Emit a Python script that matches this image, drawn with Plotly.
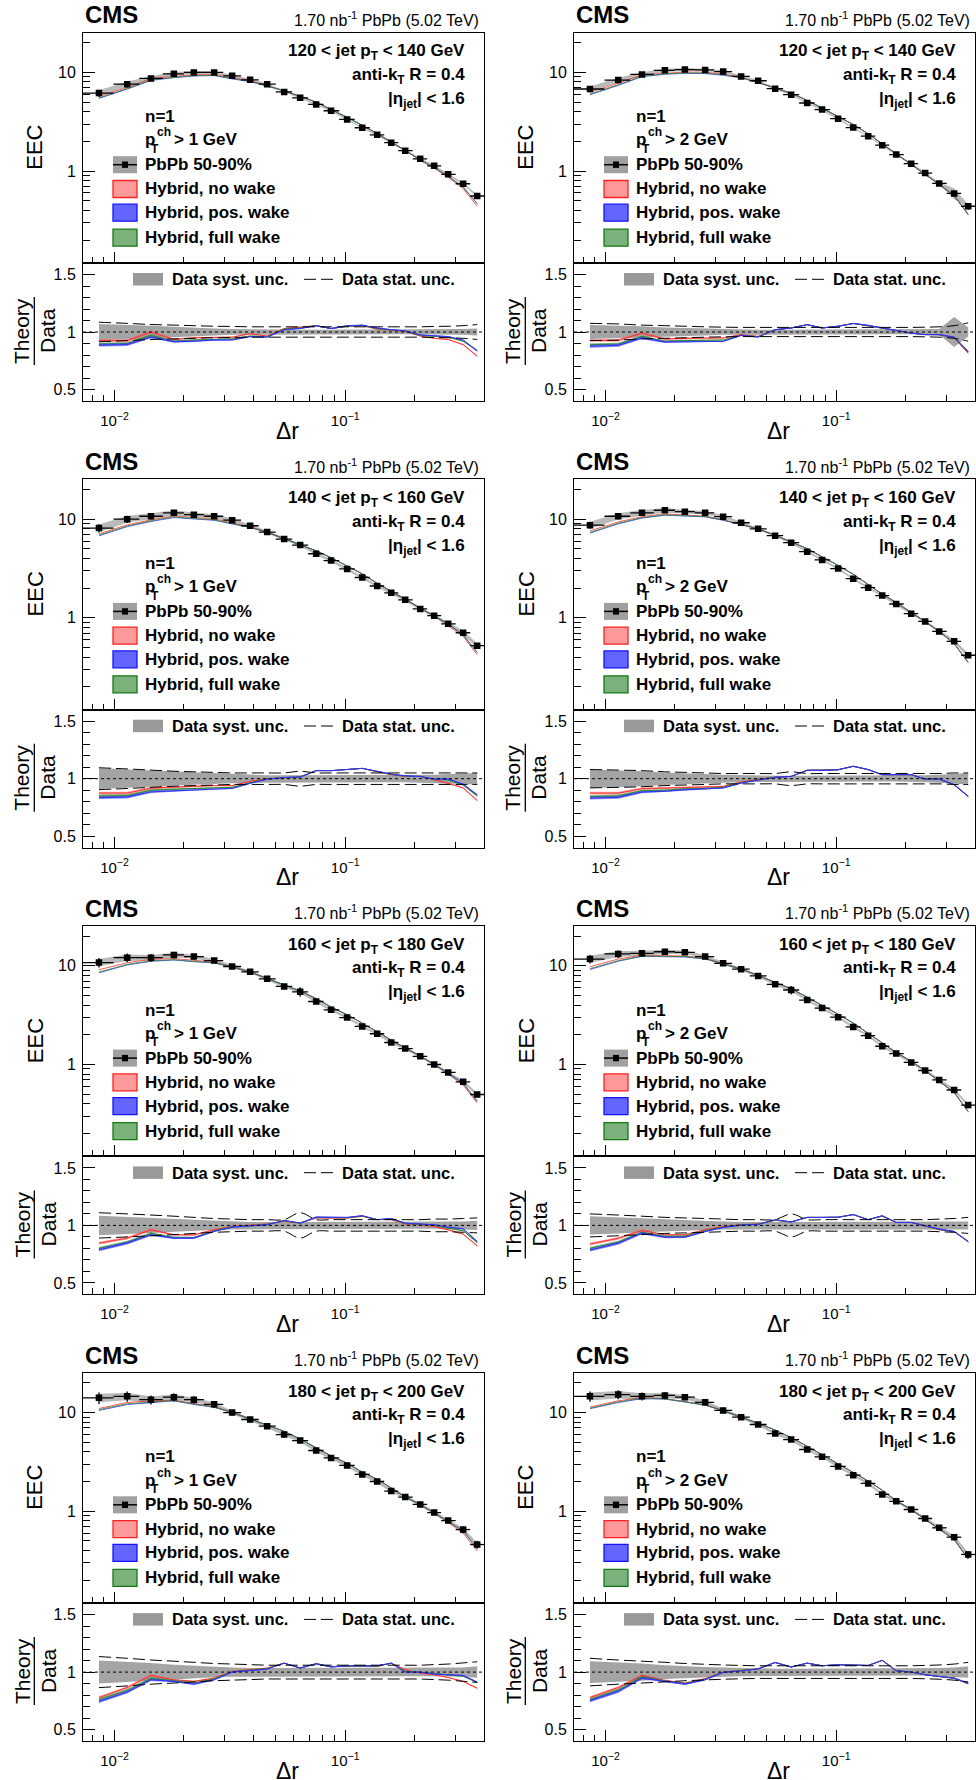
import math
import plotly.graph_objects as go

W, H = 976, 1780
FONT = "Liberation Sans"

# ------------------------------------------------------------------ data
dr_centers = [0.00856, 0.01135, 0.01439, 0.01809, 0.02208, 0.02704, 0.03236, 0.03873,
              0.04590, 0.05440, 0.06383, 0.07488, 0.08690, 0.1020, 0.1186, 0.1377,
              0.1584, 0.1822, 0.2116, 0.2432, 0.2797, 0.3249, 0.3737]
dr_edges = [0.0073, 0.0099, 0.0128, 0.0162, 0.0200, 0.0244, 0.0296, 0.0354, 0.0422,
            0.0500, 0.0589, 0.0691, 0.0806, 0.0942, 0.1100, 0.1278, 0.1477, 0.1699,
            0.1963, 0.2268, 0.2608, 0.3014, 0.3484, 0.40]

x_major_ticks = [0.01, 0.1]
x_major_labels = ["10<sup>\u22122</sup>", "10<sup>\u22121</sup>"]
x_minor_ticks = [0.008, 0.009, 0.02, 0.03, 0.04, 0.05, 0.06, 0.07, 0.08, 0.09, 0.2, 0.3]
eec_major_ticks = [1, 10]
eec_major_labels = ["1", "10"]
eec_minor_ticks = [0.2, 0.3, 0.4, 0.5, 0.6, 0.7, 0.8, 0.9, 2, 3, 4, 5, 6, 7, 8, 9, 20]
eec_range = [0.117, 25.4]
ratio_major_ticks = [0.5, 1.0, 1.5]
ratio_major_labels = ["0.5", "1", "1.5"]
ratio_range = [0.4, 1.6]

jet_pt_labels = ["120 < jet p<sub>T</sub> < 140 GeV", "140 < jet p<sub>T</sub> < 160 GeV",
                 "160 < jet p<sub>T</sub> < 180 GeV", "180 < jet p<sub>T</sub> < 200 GeV"]
track_pt_cuts = ["1", "2"]
data_label = "PbPb 50-90%"
model_labels = ["Hybrid, no wake", "Hybrid, pos. wake", "Hybrid, full wake"]

# 120-140 GeV, track pT > 1 GeV
eec_120_trk1 = [6.17, 7.61, 8.69, 9.68, 10.0, 10.0, 9.25, 8.41, 7.61, 6.35, 5.53, 4.74, 4.09,
                3.34, 2.75, 2.33, 1.94, 1.61, 1.33, 1.13, 0.926, 0.744, 0.559]
syst_120_trk1 = [0.07, 0.065, 0.055, 0.045, 0.035, 0.03, 0.025, 0.022, 0.02, 0.02, 0.02, 0.02,
                 0.02, 0.02, 0.02, 0.02, 0.02, 0.02, 0.02, 0.02, 0.022, 0.025, 0.03]
stat_120_trk1 = [0.085, 0.075, 0.065, 0.06, 0.055, 0.05, 0.048, 0.045, 0.045, 0.045, 0.045, 0.045,
                 0.045, 0.045, 0.045, 0.045, 0.045, 0.045, 0.045, 0.048, 0.05, 0.055, 0.065]
nowake_120_trk1 = [0.925, 0.925, 1.00, 0.935, 0.95, 0.955, 0.955, 0.985, 0.965, 1.03, 1.04, 1.055,
                   1.03, 1.05, 1.055, 1.025, 1.015, 1.005, 0.965, 0.945, 0.935, 0.89, 0.79]
poswake_120_trk1 = [0.885, 0.89, 0.955, 0.915, 0.92, 0.93, 0.93, 0.96, 0.955, 1.02, 1.03, 1.055,
                    1.03, 1.055, 1.06, 1.035, 1.02, 1.01, 0.975, 0.965, 0.96, 0.93, 0.835]
fullwake_120_trk1 = [0.895, 0.9, 0.97, 0.92, 0.93, 0.935, 0.94, 0.965, 0.96, 1.025, 1.035, 1.055,
                     1.03, 1.05, 1.058, 1.03, 1.018, 1.008, 0.97, 0.96, 0.955, 0.92, 0.84]

# 120-140 GeV, track pT > 2 GeV
eec_120_trk2 = [6.79, 8.37, 9.55, 10.5, 10.7, 10.6, 10.2, 9.11, 8.24, 6.84, 5.95, 4.90, 4.20,
                3.40, 2.76, 2.26, 1.83, 1.47, 1.19, 0.955, 0.750, 0.594, 0.440]
syst_120_trk2 = [0.06, 0.055, 0.05, 0.04, 0.035, 0.03, 0.025, 0.02, 0.02, 0.02, 0.02, 0.02,
                 0.02, 0.02, 0.02, 0.02, 0.02, 0.02, 0.02, 0.02, 0.025, 0.13, 0.04]
stat_120_trk2 = [0.075, 0.07, 0.06, 0.055, 0.05, 0.045, 0.042, 0.04, 0.04, 0.04, 0.04, 0.04,
                 0.04, 0.04, 0.04, 0.04, 0.04, 0.04, 0.04, 0.042, 0.045, 0.055, 0.08]
nowake_120_trk2 = [0.927, 0.927, 0.99, 0.939, 0.945, 0.948, 0.948, 0.977, 0.962, 1.02, 1.035, 1.064,
                   1.035, 1.05, 1.073, 1.055, 1.035, 1.012, 0.99, 0.977, 0.977, 0.948, 0.816]
poswake_120_trk2 = [0.875, 0.883, 0.948, 0.913, 0.915, 0.918, 0.918, 0.97, 0.956, 1.02, 1.035, 1.064,
                    1.035, 1.05, 1.075, 1.058, 1.035, 1.012, 0.99, 0.977, 0.977, 0.955, 0.83]
fullwake_120_trk2 = [0.89, 0.895, 0.96, 0.92, 0.925, 0.928, 0.93, 0.972, 0.958, 1.02, 1.035, 1.064,
                     1.035, 1.05, 1.074, 1.056, 1.035, 1.012, 0.99, 0.977, 0.977, 0.952, 0.825]

# 140-160 GeV, track pT > 1 GeV
eec_140_trk1 = [8.11, 10.0, 10.7, 11.6, 11.1, 10.7, 9.77, 8.57, 7.39, 6.28, 5.46, 4.46, 3.80,
                3.13, 2.56, 2.10, 1.79, 1.52, 1.23, 1.05, 0.869, 0.705, 0.521]
syst_140_trk1 = [0.09, 0.08, 0.07, 0.06, 0.05, 0.045, 0.04, 0.035, 0.03, 0.03, 0.03, 0.03,
                 0.03, 0.03, 0.03, 0.03, 0.03, 0.03, 0.03, 0.035, 0.04, 0.045, 0.05]
stat_140_trk1 = [0.095, 0.085, 0.075, 0.065, 0.06, 0.055, 0.05, 0.05, 0.05, 0.05, 0.065, 0.05,
                 0.05, 0.05, 0.05, 0.05, 0.05, 0.05, 0.05, 0.05, 0.05, 0.05, 0.05]
nowake_140_trk1 = [0.875, 0.875, 0.919, 0.928, 0.935, 0.94, 0.94, 0.977, 1.0, 1.01, 1.015, 1.07,
                   1.07, 1.08, 1.09, 1.06, 1.035, 1.02, 1.02, 0.99, 0.96, 0.92, 0.81]
poswake_140_trk1 = [0.835, 0.84, 0.885, 0.895, 0.905, 0.91, 0.915, 0.96, 0.995, 1.01, 1.015, 1.07,
                    1.07, 1.08, 1.09, 1.065, 1.04, 1.025, 1.02, 0.997, 0.997, 0.953, 0.86]
fullwake_140_trk1 = [0.85, 0.852, 0.9, 0.91, 0.915, 0.92, 0.925, 0.965, 0.997, 1.01, 1.015, 1.07,
                     1.07, 1.08, 1.09, 1.062, 1.038, 1.022, 1.02, 0.995, 0.99, 0.945, 0.85]

# 140-160 GeV, track pT > 2 GeV
eec_140_trk2 = [8.69, 10.7, 11.6, 12.3, 11.9, 11.6, 10.6, 9.19, 7.98, 6.79, 5.77, 4.68, 3.86,
                3.15, 2.49, 2.02, 1.68, 1.38, 1.10, 0.918, 0.728, 0.577, 0.417]
syst_140_trk2 = [0.08, 0.075, 0.065, 0.055, 0.045, 0.04, 0.035, 0.03, 0.025, 0.025, 0.025, 0.025,
                 0.025, 0.025, 0.025, 0.025, 0.025, 0.025, 0.025, 0.03, 0.035, 0.04, 0.05]
stat_140_trk2 = [0.08, 0.075, 0.07, 0.06, 0.055, 0.05, 0.045, 0.045, 0.045, 0.045, 0.06, 0.045,
                 0.045, 0.045, 0.045, 0.045, 0.045, 0.045, 0.045, 0.045, 0.045, 0.05, 0.05]
nowake_140_trk2 = [0.875, 0.875, 0.913, 0.919, 0.924, 0.924, 0.933, 0.971, 0.997, 1.012, 1.02, 1.073,
                   1.073, 1.078, 1.108, 1.078, 1.035, 1.035, 1.035, 0.997, 0.997, 0.948, 0.846]
poswake_140_trk2 = [0.831, 0.837, 0.884, 0.89, 0.904, 0.91, 0.919, 0.962, 0.99, 1.012, 1.02, 1.073,
                    1.073, 1.078, 1.108, 1.08, 1.035, 1.035, 1.035, 0.997, 0.997, 0.948, 0.846]
fullwake_140_trk2 = [0.845, 0.85, 0.895, 0.9, 0.912, 0.915, 0.925, 0.965, 0.993, 1.012, 1.02, 1.073,
                     1.073, 1.078, 1.108, 1.079, 1.035, 1.035, 1.035, 0.997, 0.997, 0.948, 0.846]

# 160-180 GeV, track pT > 1 GeV
eec_160_trk1 = [10.8, 12.1, 12.1, 12.9, 12.4, 11.3, 9.85, 8.69, 7.38, 6.18, 5.45, 4.35, 3.58,
                2.99, 2.43, 2.05, 1.67, 1.45, 1.21, 1.0, 0.830, 0.667, 0.496]
syst_160_trk1 = [0.085, 0.075, 0.065, 0.055, 0.045, 0.04, 0.035, 0.03, 0.03, 0.03, 0.03, 0.03,
                 0.03, 0.03, 0.03, 0.03, 0.03, 0.03, 0.03, 0.03, 0.03, 0.035, 0.04]
stat_160_trk1 = [0.11, 0.1, 0.09, 0.08, 0.07, 0.06, 0.055, 0.05, 0.05, 0.05, 0.11, 0.05,
                 0.05, 0.05, 0.05, 0.05, 0.05, 0.05, 0.05, 0.055, 0.055, 0.06, 0.065]
nowake_160_trk1 = [0.845, 0.889, 0.962, 0.918, 0.918, 0.962, 0.991, 1.0, 1.012, 1.035, 1.02, 1.064,
                   1.064, 1.064, 1.079, 1.05, 1.05, 1.012, 1.006, 0.991, 0.962, 0.924, 0.822]
poswake_160_trk1 = [0.787, 0.845, 0.918, 0.889, 0.889, 0.948, 0.985, 0.997, 1.006, 1.044, 1.02, 1.073,
                    1.07, 1.07, 1.085, 1.05, 1.061, 1.02, 1.012, 1.006, 0.985, 0.971, 0.86]
fullwake_160_trk1 = [0.80, 0.855, 0.93, 0.895, 0.895, 0.952, 0.987, 0.998, 1.008, 1.04, 1.02, 1.07,
                     1.067, 1.067, 1.082, 1.05, 1.056, 1.016, 1.01, 1.0, 0.975, 0.955, 0.85]

# 160-180 GeV, track pT > 2 GeV
eec_160_trk2 = [11.7, 13.2, 13.4, 13.9, 13.7, 12.4, 10.6, 9.25, 7.91, 6.50, 5.69, 4.50, 3.73,
                3.02, 2.40, 1.96, 1.53, 1.29, 1.05, 0.869, 0.698, 0.551, 0.388]
syst_160_trk2 = [0.08, 0.07, 0.06, 0.05, 0.045, 0.04, 0.035, 0.03, 0.03, 0.03, 0.03, 0.03,
                 0.03, 0.03, 0.03, 0.03, 0.03, 0.03, 0.03, 0.03, 0.03, 0.035, 0.035]
stat_160_trk2 = [0.1, 0.09, 0.08, 0.07, 0.065, 0.06, 0.055, 0.05, 0.05, 0.05, 0.1, 0.05,
                 0.05, 0.05, 0.05, 0.05, 0.05, 0.05, 0.05, 0.05, 0.055, 0.06, 0.07]
nowake_160_trk2 = [0.838, 0.888, 0.956, 0.918, 0.918, 0.962, 0.991, 1.006, 1.012, 1.044, 1.03, 1.07,
                   1.07, 1.07, 1.094, 1.05, 1.08, 1.026, 1.026, 0.997, 0.962, 0.947, 0.859]
poswake_160_trk2 = [0.785, 0.844, 0.932, 0.897, 0.897, 0.947, 0.982, 1.003, 1.009, 1.05, 1.03, 1.07,
                    1.07, 1.072, 1.094, 1.05, 1.085, 1.026, 1.026, 0.997, 0.968, 0.947, 0.859]
fullwake_160_trk2 = [0.80, 0.855, 0.94, 0.905, 0.905, 0.952, 0.985, 1.004, 1.01, 1.047, 1.03, 1.07,
                     1.07, 1.071, 1.094, 1.05, 1.082, 1.026, 1.026, 0.997, 0.965, 0.947, 0.859]

# 180-200 GeV, track pT > 1 GeV
eec_180_trk1 = [14.1, 14.6, 13.5, 14.3, 13.5, 12.1, 10.0, 8.50, 7.27, 5.98, 5.20, 4.12, 3.47,
                2.91, 2.36, 2.00, 1.60, 1.39, 1.17, 0.969, 0.804, 0.651, 0.459]
syst_180_trk1 = [0.1, 0.09, 0.08, 0.065, 0.055, 0.045, 0.04, 0.035, 0.035, 0.035, 0.035, 0.035,
                 0.035, 0.035, 0.035, 0.035, 0.035, 0.035, 0.035, 0.035, 0.035, 0.04, 0.05]
stat_180_trk1 = [0.135, 0.12, 0.105, 0.095, 0.085, 0.075, 0.07, 0.065, 0.06, 0.06, 0.06, 0.06,
                 0.06, 0.06, 0.06, 0.06, 0.06, 0.06, 0.06, 0.065, 0.07, 0.08, 0.09]
nowake_180_trk1 = [0.779, 0.866, 0.971, 0.933, 0.919, 0.948, 1.006, 1.02, 1.035, 1.078, 1.035, 1.073,
                   1.049, 1.049, 1.055, 1.049, 1.078, 1.02, 0.991, 0.977, 0.953, 0.919, 0.86]
poswake_180_trk1 = [0.744, 0.826, 0.933, 0.919, 0.895, 0.933, 1.0, 1.012, 1.026, 1.078, 1.035, 1.073,
                    1.044, 1.055, 1.055, 1.055, 1.078, 1.0, 1.0, 0.983, 0.977, 0.971, 0.913]
fullwake_180_trk1 = [0.76, 0.84, 0.945, 0.925, 0.905, 0.94, 1.003, 1.016, 1.03, 1.078, 1.035, 1.073,
                     1.047, 1.052, 1.055, 1.052, 1.078, 1.005, 1.0, 0.985, 0.975, 0.965, 0.91]

# 180-200 GeV, track pT > 2 GeV
eec_180_trk2 = [14.6, 15.2, 14.6, 14.9, 14.3, 12.7, 10.5, 8.97, 7.56, 6.12, 5.32, 4.22, 3.56,
                2.84, 2.32, 1.91, 1.48, 1.26, 1.04, 0.843, 0.678, 0.545, 0.364]
syst_180_trk2 = [0.095, 0.085, 0.075, 0.06, 0.05, 0.045, 0.04, 0.035, 0.03, 0.03, 0.03, 0.03,
                 0.03, 0.03, 0.03, 0.03, 0.03, 0.03, 0.03, 0.03, 0.035, 0.04, 0.05]
stat_180_trk2 = [0.12, 0.105, 0.095, 0.085, 0.075, 0.068, 0.062, 0.058, 0.055, 0.055, 0.055, 0.055,
                 0.055, 0.055, 0.055, 0.055, 0.055, 0.055, 0.055, 0.058, 0.062, 0.07, 0.085]
nowake_180_trk2 = [0.779, 0.866, 0.971, 0.927, 0.904, 0.942, 1.0, 1.012, 1.029, 1.084, 1.044, 1.078,
                   1.055, 1.064, 1.064, 1.058, 1.102, 1.012, 1.0, 0.977, 0.962, 0.948, 0.898]
poswake_180_trk2 = [0.75, 0.831, 0.948, 0.919, 0.895, 0.933, 0.997, 1.01, 1.027, 1.084, 1.044, 1.078,
                    1.055, 1.064, 1.064, 1.058, 1.102, 1.012, 1.0, 0.977, 0.962, 0.948, 0.904]
fullwake_180_trk2 = [0.76, 0.845, 0.958, 0.922, 0.9, 0.937, 0.998, 1.011, 1.028, 1.084, 1.044, 1.078,
                     1.055, 1.064, 1.064, 1.058, 1.102, 1.012, 1.0, 0.977, 0.962, 0.948, 0.9]

# half-width of the theory bands (ratio units)
model_halfwidth = [0.012, 0.012, 0.01, 0.008, 0.007, 0.006, 0.005, 0.005, 0.004, 0.004, 0.004, 0.004,
                   0.004, 0.004, 0.004, 0.004, 0.004, 0.004, 0.004, 0.004, 0.005, 0.005, 0.006]

panels = [
    dict(row=0, col=0, jet=jet_pt_labels[0], trk=track_pt_cuts[0], eec=eec_120_trk1, syst=syst_120_trk1,
         stat=stat_120_trk1, models=[nowake_120_trk1, poswake_120_trk1, fullwake_120_trk1]),
    dict(row=0, col=1, jet=jet_pt_labels[0], trk=track_pt_cuts[1], eec=eec_120_trk2, syst=syst_120_trk2,
         stat=stat_120_trk2, models=[nowake_120_trk2, poswake_120_trk2, fullwake_120_trk2]),
    dict(row=1, col=0, jet=jet_pt_labels[1], trk=track_pt_cuts[0], eec=eec_140_trk1, syst=syst_140_trk1,
         stat=stat_140_trk1, models=[nowake_140_trk1, poswake_140_trk1, fullwake_140_trk1]),
    dict(row=1, col=1, jet=jet_pt_labels[1], trk=track_pt_cuts[1], eec=eec_140_trk2, syst=syst_140_trk2,
         stat=stat_140_trk2, models=[nowake_140_trk2, poswake_140_trk2, fullwake_140_trk2]),
    dict(row=2, col=0, jet=jet_pt_labels[2], trk=track_pt_cuts[0], eec=eec_160_trk1, syst=syst_160_trk1,
         stat=stat_160_trk1, models=[nowake_160_trk1, poswake_160_trk1, fullwake_160_trk1]),
    dict(row=2, col=1, jet=jet_pt_labels[2], trk=track_pt_cuts[1], eec=eec_160_trk2, syst=syst_160_trk2,
         stat=stat_160_trk2, models=[nowake_160_trk2, poswake_160_trk2, fullwake_160_trk2]),
    dict(row=3, col=0, jet=jet_pt_labels[3], trk=track_pt_cuts[0], eec=eec_180_trk1, syst=syst_180_trk1,
         stat=stat_180_trk1, models=[nowake_180_trk1, poswake_180_trk1, fullwake_180_trk1]),
    dict(row=3, col=1, jet=jet_pt_labels[3], trk=track_pt_cuts[1], eec=eec_180_trk2, syst=syst_180_trk2,
         stat=stat_180_trk2, models=[nowake_180_trk2, poswake_180_trk2, fullwake_180_trk2]),
]

# ------------------------------------------------------------------ style
MODEL_LINE = ["#ff3030", "#3030ff", "#2a8a2a"]
MODEL_FILL = ["rgba(255,90,90,0.55)", "rgba(60,60,255,0.6)", "rgba(40,130,40,0.55)"]
LEG_FILL = ["#ff9a9a", "#6464ff", "#7bb27b"]
LEG_EDGE = ["#ff2020", "#1414ff", "#137a13"]
SYST_MAIN = "rgba(140,140,140,0.6)"
SYST_RATIO = "#a4a4a4"

# geometry (pixels)
COL_X0 = [83.0, 574.0]
FRAME_W = 401.0
ROW_TOP0 = 32.5
ROW_PITCH = 446.7
MAIN_H = 230.5
RATIO_H = 138.0

fig = go.Figure()
annotations = []
shapes = []
layout_axes = {}


def axn(i):
    return "" if i == 1 else str(i)


def px2x(px):
    return px / W


def px2y(py):
    return 1 - py / H


def ann(text, x, y, size, xa="left", ya="middle", bold=False, angle=0):
    annotations.append(dict(
        text=f"<b>{text}</b>" if bold else text, x=px2x(x), y=px2y(y), xref="paper", yref="paper",
        xanchor=xa, yanchor=ya, showarrow=False, textangle=angle,
        font=dict(family=FONT, size=size, color="black")))


def rect(x0, y0, x1, y1, fill, edge=None, ew=0):
    shapes.append(dict(type="rect", xref="paper", yref="paper", x0=px2x(x0), x1=px2x(x1),
                       y0=px2y(y1), y1=px2y(y0), fillcolor=fill,
                       line=dict(color=edge or fill, width=ew), layer="above"))


def hline(x0, x1, y, color="black", width=1.3, dash="solid"):
    shapes.append(dict(type="line", xref="paper", yref="paper", x0=px2x(x0), x1=px2x(x1),
                       y0=px2y(y), y1=px2y(y), line=dict(color=color, width=width, dash=dash),
                       layer="above"))


def vline(x, y0, y1, color="black", width=1.3):
    shapes.append(dict(type="line", xref="paper", yref="paper", x0=px2x(x), x1=px2x(x),
                       y0=px2y(y0), y1=px2y(y1), line=dict(color=color, width=width), layer="above"))


def base_axis():
    return dict(showline=True, linecolor="black", linewidth=1, mirror=True, ticks="inside",
                tickcolor="black", tickwidth=1, showgrid=False, zeroline=False, fixedrange=True,
                tickfont=dict(family=FONT, size=16, color="black"))


XRANGE = [math.log10(dr_edges[0]), math.log10(dr_edges[-1])]
err_plus = [dr_edges[i + 1] - c for i, c in enumerate(dr_centers)]
err_minus = [c - dr_edges[i] for i, c in enumerate(dr_centers)]

for p, pd in enumerate(panels):
    row, col = pd["row"], pd["col"]
    top = ROW_TOP0 + row * ROW_PITCH
    x0 = COL_X0[col]
    x1 = x0 + FRAME_W
    im, ir = 2 * p + 1, 2 * p + 2
    mx, my = "x" + axn(im), "y" + axn(im)
    rx, ry = "x" + axn(ir), "y" + axn(ir)

    # ---------------- axes
    ax = base_axis()
    ax.update(type="log", range=XRANGE, domain=[px2x(x0), px2x(x1)], anchor=my,
              tickmode="array", tickvals=x_major_ticks, ticklen=11, showticklabels=False,
              minor=dict(tickmode="array", tickvals=x_minor_ticks, ticks="inside", ticklen=6,
                         tickcolor="black"))
    layout_axes["xaxis" + axn(im)] = ax
    ay = base_axis()
    ay.update(type="log", range=[math.log10(eec_range[0]), math.log10(eec_range[1])],
              domain=[px2y(top + MAIN_H), px2y(top)], anchor=mx, tickmode="array",
              tickvals=eec_major_ticks, ticktext=eec_major_labels, ticklen=12, ticklabelstandoff=3,
              minor=dict(tickmode="array", tickvals=eec_minor_ticks, ticks="inside", ticklen=7,
                         tickcolor="black"))
    layout_axes["yaxis" + axn(im)] = ay
    bx = base_axis()
    bx.update(type="log", range=XRANGE, domain=[px2x(x0), px2x(x1)], anchor=ry,
              tickmode="array", tickvals=x_major_ticks, ticktext=x_major_labels, ticklen=11,
              ticklabelstandoff=6, tickfont=dict(family=FONT, size=15, color="black"),
              minor=dict(tickmode="array", tickvals=x_minor_ticks, ticks="inside", ticklen=6,
                         tickcolor="black"))
    layout_axes["xaxis" + axn(ir)] = bx
    by = base_axis()
    by.update(range=ratio_range, domain=[px2y(top + MAIN_H + RATIO_H), px2y(top + MAIN_H)],
              anchor=rx, tickmode="array", tickvals=ratio_major_ticks, ticktext=ratio_major_labels,
              ticklen=12, ticklabelstandoff=3,
              minor=dict(tickmode="linear", tick0=0, dtick=0.1, ticks="inside", ticklen=7,
                         tickcolor="black"))
    layout_axes["yaxis" + axn(ir)] = by

    eec, syst, stat = pd["eec"], pd["syst"], pd["stat"]

    # ---------------- main panel
    up = [v * (1 + s) for v, s in zip(eec, syst)]
    lo = [v * (1 - s) for v, s in zip(eec, syst)]
    fig.add_trace(go.Scatter(x=dr_centers + dr_centers[::-1], y=up + lo[::-1], fill="toself",
                             fillcolor=SYST_MAIN, line=dict(width=0), mode="lines",
                             xaxis=mx, yaxis=my, showlegend=False, hoverinfo="skip"))
    for k in range(3):
        th = [v * r for v, r in zip(eec, pd["models"][k])]
        fig.add_trace(go.Scatter(x=dr_centers, y=th, mode="lines",
                                 line=dict(color=MODEL_LINE[k], width=1), opacity=0.8,
                                 xaxis=mx, yaxis=my, showlegend=False, name=model_labels[k]))
    fig.add_trace(go.Scatter(
        x=dr_centers, y=eec, mode="markers",
        marker=dict(symbol="square", size=6.5, color="black"),
        error_x=dict(type="data", symmetric=False, array=err_plus, arrayminus=err_minus,
                     thickness=1.3, width=0, color="black"),
        error_y=dict(type="data", array=[v * s for v, s in zip(eec, stat)], thickness=1.3, width=0,
                     color="black"),
        xaxis=mx, yaxis=my, showlegend=False, name=data_label))

    # ---------------- ratio panel
    fig.add_trace(go.Scatter(x=dr_centers + dr_centers[::-1],
                             y=[1 + s for s in syst] + [1 - s for s in syst][::-1],
                             fill="toself", fillcolor=SYST_RATIO, line=dict(width=0), mode="lines",
                             xaxis=rx, yaxis=ry, showlegend=False, hoverinfo="skip"))
    for k in (0, 2, 1):
        r = pd["models"][k]
        rup = [a + h for a, h in zip(r, model_halfwidth)]
        rlo = [a - h for a, h in zip(r, model_halfwidth)]
        fig.add_trace(go.Scatter(x=dr_centers + dr_centers[::-1], y=rup + rlo[::-1], fill="toself",
                                 fillcolor=MODEL_FILL[k], line=dict(width=0), mode="lines",
                                 xaxis=rx, yaxis=ry, showlegend=False, hoverinfo="skip"))
        fig.add_trace(go.Scatter(x=dr_centers, y=r, mode="lines",
                                 line=dict(color=MODEL_LINE[k], width=1),
                                 xaxis=rx, yaxis=ry, showlegend=False, name=model_labels[k]))
    for sign in (1, -1):
        fig.add_trace(go.Scatter(x=dr_centers, y=[1 + sign * s for s in stat], mode="lines",
                                 line=dict(color="black", width=1, dash="12px,5px", shape="spline",
                                           smoothing=1.0),
                                 xaxis=rx, yaxis=ry, showlegend=False, hoverinfo="skip"))
    shapes.append(dict(type="line", xref=rx + " domain", yref=ry, x0=0, x1=1, y0=1, y1=1,
                       line=dict(color="black", width=1, dash="dot"), layer="above"))

    # ---------------- texts
    ann("CMS", x0, top - 17.5, 24, bold=True)
    ann("1.70 nb<sup>-1</sup> PbPb (5.02 TeV)", x0 + 398, top - 13.5, 16, xa="right")
    ann(pd["jet"], x0 + 384, top + 20, 17, xa="right", bold=True)
    ann("anti-k<sub>T</sub> R = 0.4", x0 + 384, top + 43.5, 17, xa="right", bold=True)
    ann("|\u03b7<sub>jet</sub>| < 1.6", x0 + 384, top + 67.5, 17, xa="right", bold=True)
    ann("n=1", x0 + 60.3, top + 84.2, 17, bold=True)
    ann("p", x0 + 60.3, top + 107.5, 17, bold=True)
    ann("ch", x0 + 72, top + 100, 12, bold=True)
    ann("T", x0 + 66, top + 116.5, 12, bold=True)
    ann("> " + pd["trk"] + " GeV", x0 + 89, top + 107.5, 17, bold=True)

    leg_y = [132.2, 156.5, 180.2, 205.2]
    yc = top + leg_y[0]
    rect(x0 + 30, yc - 8.5, x0 + 54, yc + 8.5, "#a0a0a0")
    hline(x0 + 30, x0 + 54, yc, width=1.5)
    rect(x0 + 39, yc - 3.2, x0 + 45, yc + 3.2, "black")
    ann(data_label, x0 + 60.3, yc, 17, bold=True)
    for k in range(3):
        yc = top + leg_y[k + 1]
        rect(x0 + 30, yc - 8.5, x0 + 54, yc + 8.5, LEG_FILL[k], LEG_EDGE[k], 1.3)
        ann(model_labels[k], x0 + 60.3, yc, 17, bold=True)

    rtop = top + MAIN_H
    rect(x0 + 50, rtop + 10, x0 + 80, rtop + 22.5, "#999999")
    ann("Data syst. unc.", x0 + 87, rtop + 16.3, 16.5, bold=True)
    hline(x0 + 221, x0 + 250, rtop + 16.3, width=1, dash="12px,5px")
    ann("Data stat. unc.", x0 + 257, rtop + 16.3, 16.5, bold=True)

    ann("EEC", x0 - 48, top + MAIN_H / 2, 22, xa="center", angle=-90)
    ann("Theory", x0 - 61, rtop + 68, 21, xa="center", angle=-90)
    ann("Data", x0 - 35, rtop + 68, 21, xa="center", angle=-90)
    vline(x0 - 48.7, rtop + 34, rtop + 102, width=1.3)
    ann("\u0394r", x0 + 204, top + 398, 23, xa="center")

fig.update_layout(
    width=W, height=H, autosize=False,
    margin=dict(l=0, r=0, t=0, b=0),
    paper_bgcolor="white", plot_bgcolor="white",
    showlegend=False, annotations=annotations, shapes=shapes,
    font=dict(family=FONT, color="black"),
    **layout_axes,
)

fig.write_html("out.html", config={"displayModeBar": False},
               post_script="document.body.style.margin='0';document.body.style.padding='0';"
                           "document.body.style.overflow='hidden';")
